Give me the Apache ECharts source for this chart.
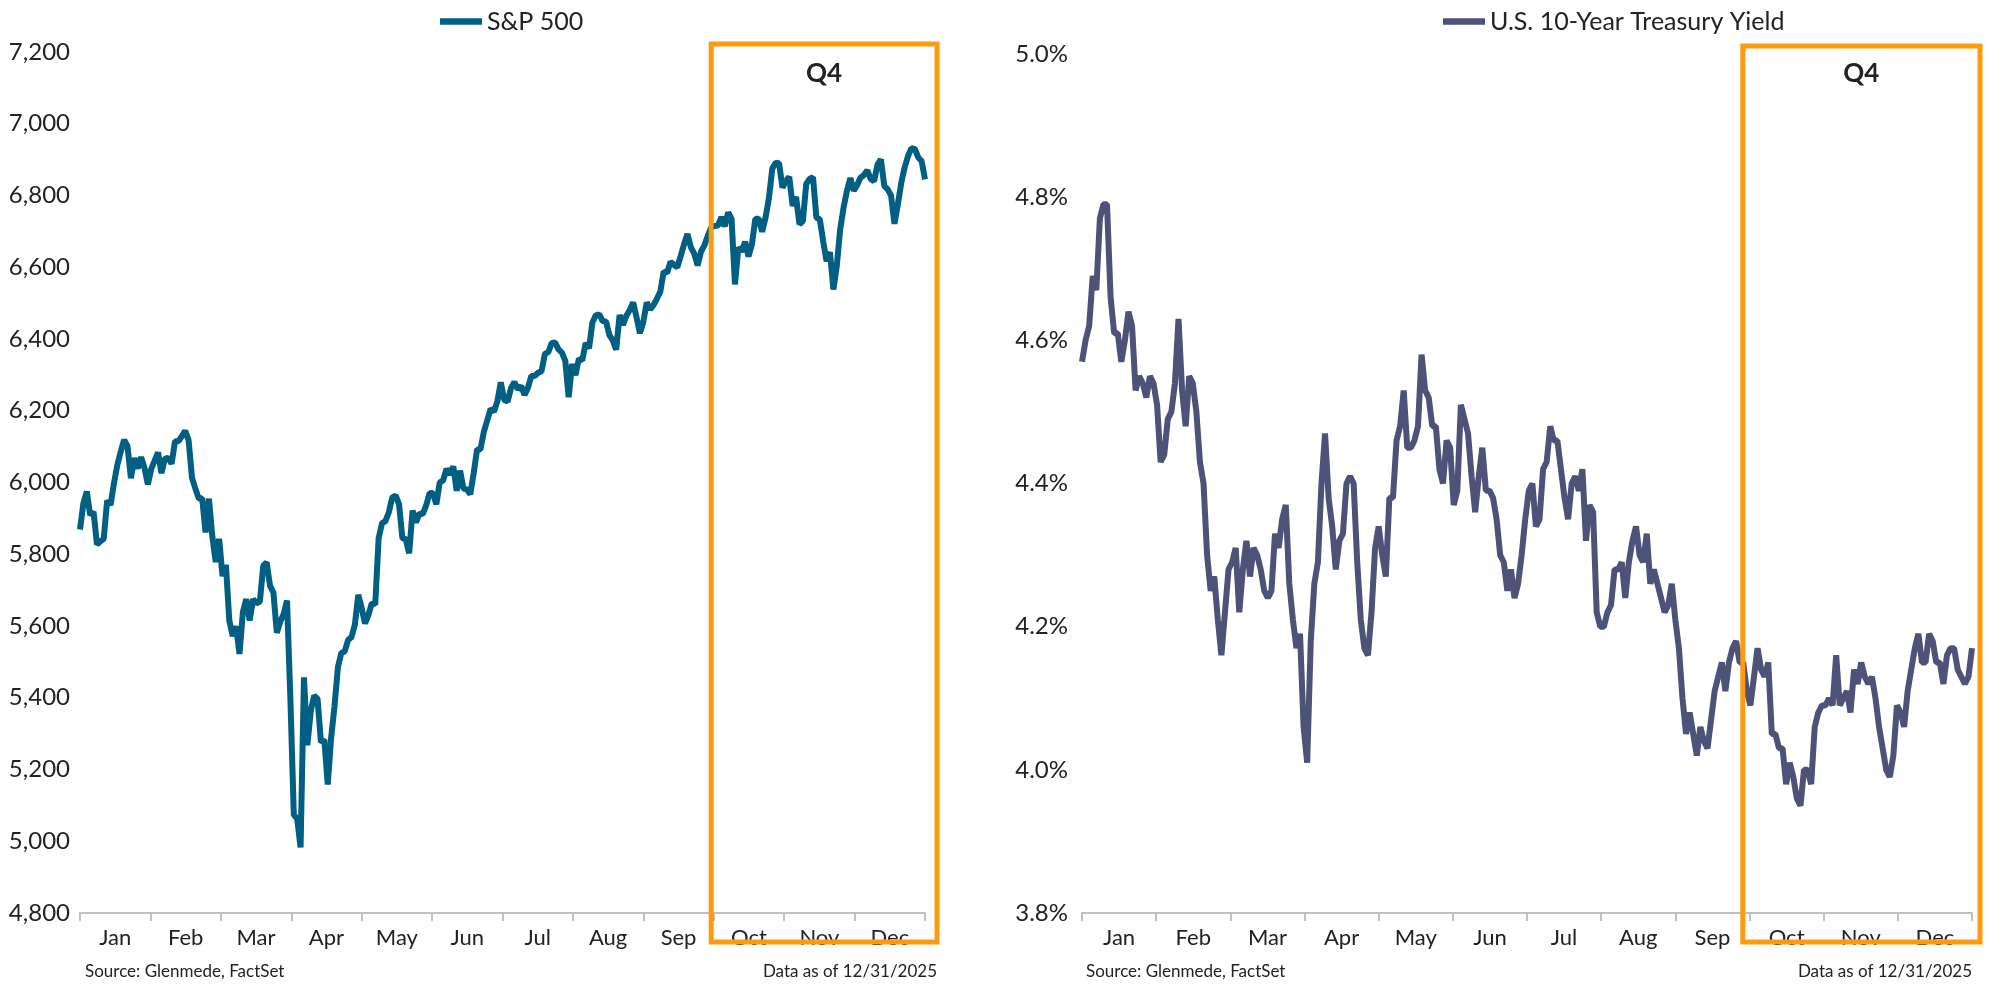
<!DOCTYPE html>
<html>
<head>
<meta charset="utf-8">
<script src="https://cdn.jsdelivr.net/npm/echarts@6/dist/echarts.min.js"></script>
<style>
html,body{margin:0;padding:0;background:#fff;}
#main{width:2000px;height:993px;}
</style>
</head>
<body>
<div id="main"></div>
<script>
var months = ['Jan','Feb','Mar','Apr','May','Jun','Jul','Aug','Sep','Oct','Nov','Dec'];

var spxDates = ['01-02','01-03','01-06','01-07','01-08','01-10','01-13','01-14','01-15','01-16','01-17','01-21','01-22','01-23','01-24','01-27','01-28','01-29','01-30','01-31',
'02-03','02-04','02-05','02-06','02-07','02-10','02-11','02-12','02-13','02-14','02-18','02-19','02-20','02-21','02-24','02-25','02-26','02-27','02-28',
'03-03','03-04','03-05','03-06','03-07','03-10','03-11','03-12','03-13','03-14','03-17','03-18','03-19','03-20','03-21','03-24','03-25','03-26','03-27','03-28','03-31',
'04-01','04-02','04-03','04-04','04-07','04-08','04-09','04-10','04-11','04-14','04-15','04-16','04-17','04-21','04-22','04-23','04-24','04-25','04-28','04-29','04-30',
'05-01','05-02','05-05','05-06','05-07','05-08','05-09','05-12','05-13','05-14','05-15','05-16','05-19','05-20','05-21','05-22','05-23','05-27','05-28','05-29','05-30',
'06-02','06-03','06-04','06-05','06-06','06-09','06-10','06-11','06-12','06-13','06-16','06-17','06-18','06-20','06-23','06-24','06-25','06-26','06-27','06-30',
'07-01','07-02','07-03','07-07','07-08','07-09','07-10','07-11','07-14','07-15','07-16','07-17','07-18','07-21','07-22','07-23','07-24','07-25','07-28','07-29','07-30','07-31',
'08-01','08-04','08-05','08-06','08-07','08-08','08-11','08-12','08-13','08-14','08-15','08-18','08-19','08-20','08-21','08-22','08-25','08-26','08-27','08-28','08-29',
'09-02','09-03','09-04','09-05','09-08','09-09','09-10','09-11','09-12','09-15','09-16','09-17','09-18','09-19','09-22','09-23','09-24','09-25','09-26','09-29','09-30',
'10-01','10-02','10-03','10-06','10-07','10-08','10-09','10-10','10-13','10-14','10-15','10-16','10-17','10-20','10-21','10-22','10-23','10-24','10-27','10-28','10-29','10-30','10-31',
'11-03','11-04','11-05','11-06','11-07','11-10','11-11','11-12','11-13','11-14','11-17','11-18','11-19','11-20','11-21','11-24','11-25','11-26','11-28',
'12-01','12-02','12-03','12-04','12-05','12-08','12-09','12-10','12-11','12-12','12-15','12-16','12-17','12-18','12-19','12-22','12-23','12-24','12-26','12-29','12-30','12-31'];

var spxValues = [5869,5942,5975,5909,5918,5827,5836,5843,5950,5937,5997,6049,6086,6119,6101,6012,6068,6039,6071,6041,
5995,6038,6061,6084,6026,6066,6069,6052,6115,6115,6129,6144,6118,6013,5983,5955,5956,5861,5955,
5849,5778,5843,5739,5770,5615,5572,5599,5522,5639,5675,5615,5675,5663,5668,5768,5777,5712,5693,5581,5612,
5633,5671,5397,5074,5062,4983,5457,5268,5363,5406,5397,5276,5283,5158,5288,5376,5485,5525,5529,5561,5569,
5604,5687,5650,5607,5631,5664,5660,5844,5887,5892,5917,5958,5964,5940,5845,5842,5803,5922,5889,5913,5912,
5936,5970,5971,5939,6000,6006,6038,6022,6045,5977,6033,5983,5981,5967,6025,6092,6092,6141,6173,6205,
6198,6227,6279,6230,6226,6263,6280,6260,6269,6244,6264,6297,6297,6306,6310,6359,6363,6389,6390,6371,6362,6339,
6238,6330,6299,6345,6340,6389,6374,6446,6466,6469,6450,6449,6411,6396,6370,6467,6439,6465,6481,6502,6460,
6416,6448,6502,6482,6495,6512,6532,6588,6584,6615,6607,6600,6631,6664,6693,6656,6638,6605,6644,6661,6688,
6711,6715,6716,6740,6714,6753,6735,6552,6655,6644,6671,6630,6664,6735,6735,6699,6738,6792,6875,6891,6890,6822,6840,
6852,6771,6796,6720,6728,6832,6846,6851,6738,6734,6672,6617,6642,6538,6603,6705,6766,6813,6849,
6813,6829,6850,6857,6870,6846,6840,6886,6901,6827,6817,6800,6721,6775,6835,6878,6910,6932,6930,6906,6896,6845];

var tsyDates = spxDates.slice();

var tsyValues = [4.57,4.60,4.62,4.69,4.67,4.77,4.79,4.79,4.66,4.61,4.61,4.57,4.60,4.64,4.62,4.53,4.55,4.54,4.52,4.55,
4.54,4.51,4.43,4.44,4.49,4.50,4.54,4.63,4.53,4.48,4.55,4.54,4.50,4.43,4.40,4.30,4.25,4.27,4.21,
4.16,4.22,4.28,4.29,4.31,4.22,4.28,4.32,4.27,4.31,4.30,4.28,4.25,4.24,4.25,4.33,4.31,4.35,4.37,4.26,4.21,
4.17,4.19,4.06,4.01,4.18,4.26,4.29,4.40,4.47,4.38,4.34,4.28,4.32,4.33,4.40,4.41,4.40,4.29,4.21,4.17,4.16,
4.22,4.31,4.34,4.30,4.27,4.38,4.38,4.46,4.48,4.53,4.45,4.45,4.46,4.48,4.58,4.53,4.52,4.48,4.48,4.42,4.40,
4.46,4.45,4.37,4.39,4.51,4.49,4.47,4.41,4.36,4.41,4.45,4.39,4.39,4.38,4.35,4.30,4.29,4.25,4.28,4.24,
4.26,4.30,4.35,4.39,4.40,4.34,4.35,4.42,4.43,4.48,4.46,4.46,4.42,4.38,4.35,4.40,4.41,4.39,4.42,4.32,4.37,4.36,
4.22,4.20,4.20,4.22,4.23,4.28,4.28,4.29,4.24,4.29,4.32,4.34,4.30,4.29,4.33,4.26,4.28,4.26,4.24,4.22,4.23,
4.26,4.21,4.17,4.10,4.05,4.08,4.05,4.02,4.06,4.04,4.03,4.07,4.11,4.13,4.15,4.11,4.15,4.17,4.18,4.15,4.15,
4.11,4.09,4.13,4.17,4.14,4.13,4.15,4.05,4.05,4.03,4.03,3.98,4.01,3.99,3.96,3.95,4.00,4.00,3.98,4.06,4.08,4.09,4.09,
4.10,4.09,4.16,4.09,4.10,4.11,4.08,4.14,4.12,4.15,4.13,4.12,4.13,4.10,4.06,4.03,4.00,3.99,4.02,
4.09,4.08,4.06,4.11,4.14,4.17,4.19,4.15,4.15,4.19,4.18,4.15,4.15,4.12,4.16,4.17,4.17,4.14,4.13,4.12,4.13,4.17];

var spxTicks = {min: 4800, max: 7200, interval: 200};
var tsyTicks = {min: 3.8, max: 5.0, interval: 0.2};

var FONT = 'Lato, "Open Sans", sans-serif';
var ORANGE = '#ff9a0e';

var chart = echarts.init(document.getElementById('main'));

function dateAxis(grid) {
    return {type: 'category', gridIndex: grid, data: spxDates, boundaryGap: false, show: false};
}
function monthAxis(grid) {
    return {
        type: 'category', gridIndex: grid, data: months, boundaryGap: true, position: 'bottom',
        axisLine: {show: true, lineStyle: {color: '#bfbfbf', width: 2}},
        axisTick: {show: true, interval: 0, length: 8, lineStyle: {color: '#bfbfbf', width: 2}},
        axisLabel: {color: '#222', fontSize: 22, fontFamily: FONT, margin: 14}
    };
}

chart.setOption({
    animation: false,
    legend: [
        {data: ['S&P 500'], left: 435, top: 4, icon: 'path://M0,0 L40,0 L40,6 L0,6 Z', itemWidth: 42, itemHeight: 7,
         textStyle: {fontSize: 25, fontFamily: FONT, color: '#222'}},
        {data: ['U.S. 10-Year Treasury Yield'], left: 1438, top: 4, icon: 'path://M0,0 L40,0 L40,6 L0,6 Z', itemWidth: 42, itemHeight: 7,
         textStyle: {fontSize: 25, fontFamily: FONT, color: '#222'}}
    ],
    grid: [
        {left: 80, right: 1075, top: 52, bottom: 80},
        {left: 1082, right: 28, top: 54, bottom: 80}
    ],
    xAxis: [dateAxis(0), monthAxis(0), dateAxis(1), monthAxis(1)],
    yAxis: [
        {type: 'value', gridIndex: 0, min: spxTicks.min, max: spxTicks.max, interval: spxTicks.interval,
         splitLine: {show: false}, axisLine: {show: false}, axisTick: {show: false},
         axisLabel: {fontSize: 24, fontFamily: FONT, color: '#222', margin: 10,
            formatter: function (v) { return v.toLocaleString('en-US'); }}},
        {type: 'value', gridIndex: 1, min: tsyTicks.min, max: tsyTicks.max, interval: tsyTicks.interval,
         splitLine: {show: false}, axisLine: {show: false}, axisTick: {show: false},
         axisLabel: {fontSize: 24, fontFamily: FONT, color: '#222', margin: 14,
            formatter: function (v) { return v.toFixed(1) + '%'; }}}
    ],
    series: [
        {name: 'S&P 500', type: 'line', xAxisIndex: 0, yAxisIndex: 0, data: spxValues,
         showSymbol: false, lineStyle: {color: '#005f83', width: 6}, itemStyle: {color: '#005f83'}},
        {name: 'U.S. 10-Year Treasury Yield', type: 'line', xAxisIndex: 2, yAxisIndex: 1, data: tsyValues,
         showSymbol: false, lineStyle: {color: '#4d5278', width: 6}, itemStyle: {color: '#4d5278'}}
    ]
});

// Q4 boxes and footnotes, placed from the axes
var boxes = [];
[[0, 0, 0, 12], [2, 1, -4, 8]].forEach(function (c) {
    var x0 = chart.convertToPixel({xAxisIndex: c[0]}, '10-01') + c[2];
    var x1 = chart.convertToPixel({xAxisIndex: c[0]}, '12-31') + c[3];
    var y0 = c[1] === 0 ? 44 : 46;
    var y1 = 942;
    boxes.push({type: 'rect', shape: {x: x0, y: y0, width: x1 - x0, height: y1 - y0},
        style: {fill: 'none', stroke: ORANGE, lineWidth: 5}, z: 10});
    boxes.push({type: 'text', x: (x0 + x1) / 2, y: 74, style: {text: 'Q4', fontSize: 26, fontWeight: 'bold',
        fontFamily: FONT, fill: '#222', align: 'center', verticalAlign: 'middle'}});
});
var foot = {fontSize: 17, fontFamily: FONT, fill: '#222', verticalAlign: 'middle'};
boxes.push({type: 'text', x: 85, y: 972, style: Object.assign({text: 'Source: Glenmede, FactSet', align: 'left'}, foot)});
boxes.push({type: 'text', x: 937, y: 972, style: Object.assign({text: 'Data as of 12/31/2025', align: 'right'}, foot)});
boxes.push({type: 'text', x: 1086, y: 972, style: Object.assign({text: 'Source: Glenmede, FactSet', align: 'left'}, foot)});
boxes.push({type: 'text', x: 1972, y: 972, style: Object.assign({text: 'Data as of 12/31/2025', align: 'right'}, foot)});
chart.setOption({graphic: boxes});
</script>
</body>
</html>
